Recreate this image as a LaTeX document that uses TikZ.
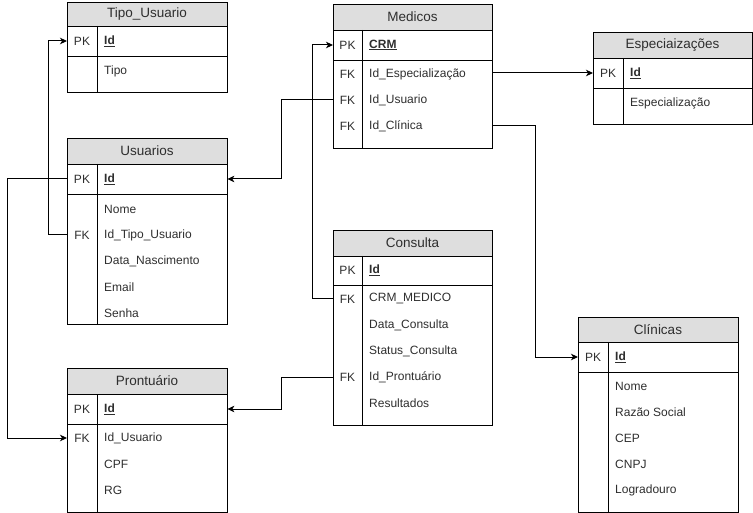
\documentclass[tikz,border=0pt]{standalone}
\usepackage{fontspec}
\setmainfont{Liberation Sans}
\usetikzlibrary{arrows.meta}

% x and y in pixels-as-points, y grows downwards
\tikzset{
  x=1pt, y=-1pt,
  line width=1pt,
  headfill/.style={fill=black!13},
  tablebox/.style={draw=black, inner sep=0pt, anchor=north west},
  titletxt/.style={inner sep=0pt, font=\fontsize{13.5}{16}\selectfont, text=black!82},
  keytxt/.style={inner sep=0pt, font=\fontsize{12}{14}\selectfont, text=black!82},
  fieldtxt/.style={inner sep=0pt, anchor=west, font=\fontsize{12}{14}\selectfont, text=black!82},
  link/.style={draw=black, line width=1pt, -{Stealth[length=7pt,width=6.5pt,inset=2pt]}},
}

% #1 name, #2 title, #3 left, #4 top, #5 right, #6 header bottom,
% #7 key row separator, #8 bottom, #9 key column divider
\newcommand\ertable[9]{%
  \fill[headfill] (#3,#4) rectangle (#5,#6);
  \node[tablebox, minimum width={(#5-#3)*1pt}, minimum height={(#8-#4)*1pt}] (#1) at (#3,#4) {};
  \node[titletxt] (#1-title) at ({(#3+#5)/2},{(#4+#6)/2}) {#2};
  \draw (#1.west |- 0,#6) -- (#1.east |- 0,#6);
  \draw (#1.west |- 0,#7) -- (#1.east |- 0,#7);
  \draw (#9,#6) -- (#9,#8);
}
\newcommand\pkfield[1]{\underline{\textbf{#1}}}

\begin{document}
\begin{tikzpicture}
\useasboundingbox (0,0) rectangle (753,513);

% ---------- Tipo_Usuario ----------
\ertable{tipo}{Tipo\_Usuario}{67}{2}{227}{26}{56}{92}{97}
\node[keytxt] (tu-pk) at (82,41) {PK};
\node[fieldtxt] (tu-id) at (104,41) {\pkfield{Id}};
\node[fieldtxt] (tu-tipo) at (104,71) {Tipo};

% ---------- Usuarios ----------
\ertable{usuarios}{Usuarios}{67}{138}{227}{164}{194}{324}{97}
\node[keytxt] (us-pk) at (82,179) {PK};
\node[fieldtxt] (us-id) at (104,179) {\pkfield{Id}};
\node[fieldtxt] (us-nome) at (104,209) {Nome};
\node[keytxt] (us-fk) at (82,235) {FK};
\node[fieldtxt] (us-tipo) at (104,235) {Id\_Tipo\_Usuario};
\node[fieldtxt] (us-data) at (104,261) {Data\_Nascimento};
\node[fieldtxt] (us-email) at (104,287) {Email};
\node[fieldtxt] (us-senha) at (104,313) {Senha};

% ---------- Prontuário ----------
\ertable{pront}{Prontuário}{67}{368}{227}{394}{424}{512}{97}
\node[keytxt] (pr-pk) at (82,409) {PK};
\node[fieldtxt] (pr-id) at (104,409) {\pkfield{Id}};
\node[keytxt] (pr-fk) at (82,438) {FK};
\node[fieldtxt] (pr-idusu) at (104,438) {Id\_Usuario};
\node[fieldtxt] (pr-cpf) at (104,464) {CPF};
\node[fieldtxt] (pr-rg) at (104,490) {RG};

% ---------- Medicos ----------
\ertable{medicos}{Medicos}{333}{4}{492}{30}{60}{148}{362}
\node[keytxt] (med-pk) at (347.5,45) {PK};
\node[fieldtxt] (med-crm) at (369,45) {\pkfield{CRM}};
\node[keytxt] (med-fk1) at (347.5,74) {FK};
\node[fieldtxt] (med-idesp) at (369,74) {Id\_Especialização};
\node[keytxt] (med-fk2) at (347.5,100) {FK};
\node[fieldtxt] (med-idusu) at (369,100) {Id\_Usuario};
\node[keytxt] (med-fk3) at (347.5,126) {FK};
\node[fieldtxt] (med-idcli) at (369,126) {Id\_Clínica};

% ---------- Consulta ----------
\ertable{consulta}{Consulta}{333}{230}{492}{256}{285}{425}{362}
\node[keytxt] (con-pk) at (347.5,270) {PK};
\node[fieldtxt] (con-id) at (369,270) {\pkfield{Id}};
\node[keytxt] (con-fk1) at (347.5,299) {FK};
\node[fieldtxt] (con-crm) at (369,299) {CRM\_MEDICO};
\node[fieldtxt] (con-data) at (369,325) {Data\_Consulta};
\node[fieldtxt] (con-status) at (369,351) {Status\_Consulta};
\node[keytxt] (con-fk2) at (347.5,377) {FK};
\node[fieldtxt] (con-pront) at (369,377) {Id\_Prontuário};
\node[fieldtxt] (con-res) at (369,403) {Resultados};

% ---------- Especiaizações ----------
\ertable{esp}{Especiaizações}{593}{32}{752}{58}{88}{124}{623}
\node[keytxt] (esp-pk) at (608,73) {PK};
\node[fieldtxt] (esp-id) at (630,73) {\pkfield{Id}};
\node[fieldtxt] (esp-nome) at (630,103) {Especialização};

% ---------- Clínicas ----------
\ertable{clinicas}{Clínicas}{578}{317}{738}{342}{372}{512}{608}
\node[keytxt] (cli-pk) at (593,357) {PK};
\node[fieldtxt] (cli-id) at (615,357) {\pkfield{Id}};
\node[fieldtxt] (cli-nome) at (615,386) {Nome};
\node[fieldtxt] (cli-razao) at (615,412) {Razão Social};
\node[fieldtxt] (cli-cep) at (615,438) {CEP};
\node[fieldtxt] (cli-cnpj) at (615,464) {CNPJ};
\node[fieldtxt] (cli-logr) at (615,490) {Logradouro};

% ---------- relationships ----------
\draw[link] (usuarios.west |- us-tipo) -- ++(-19,0) |- (tipo.west |- tu-id);
\draw[link] (usuarios.west |- us-id) -- ++(-60,0) |- (pront.west |- pr-idusu);
\draw[link] (medicos.west |- med-idusu) -- ++(-52,0) |- (usuarios.east |- us-id);
\draw[link] (consulta.west |- con-crm) -- ++(-21,0) |- (medicos.west |- med-crm);
\draw[link] (medicos.east |- esp-id) -- (esp.west |- esp-id);
\draw[link] (medicos.east |- med-idcli) -- ++(43,0) |- (clinicas.west |- cli-id);
\draw[link] (consulta.west |- con-pront) -- ++(-52,0) |- (pront.east |- pr-id);
\end{tikzpicture}
\end{document}
